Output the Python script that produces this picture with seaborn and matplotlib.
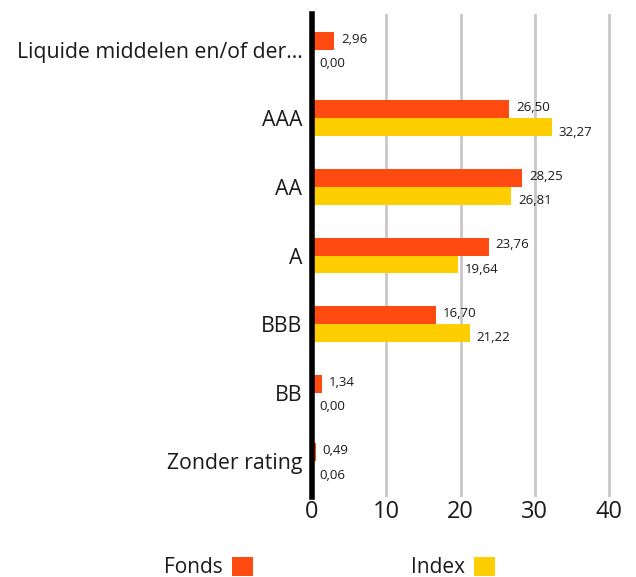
import matplotlib
matplotlib.use("Agg")
import matplotlib.pyplot as plt
import seaborn as sns
import pandas as pd
from matplotlib.patches import Patch

categories = ["Liquide middelen en/of der...", "AAA", "AA", "A", "BBB", "BB", "Zonder rating"]
fonds = [2.96, 26.50, 28.25, 23.76, 16.70, 1.34, 0.49]
index_vals = [0.00, 32.27, 26.81, 19.64, 21.22, 0.00, 0.06]
series = ["Fonds", "Index"]
colors = ["#FF4A12", "#FFCE00"]
xticks = [0, 10, 20, 30, 40]

df = pd.DataFrame({
    "cat": categories * 2,
    "val": fonds + index_vals,
    "serie": ["Fonds"] * len(categories) + ["Index"] * len(categories),
})

sns.set_style("white")
plt.rcParams['font.family'] = ['Open Sans', 'DejaVu Sans']

fig = plt.figure(figsize=(6.36, 5.77), dpi=100)
ax = fig.add_axes([312/636, 1-497/577, (630-312)/636, (497-14)/577])

sns.barplot(data=df, y="cat", x="val", hue="serie", hue_order=series,
            palette=colors, orient="h", width=0.52, dodge=True,
            saturation=1, ax=ax, legend=False, errorbar=None, linewidth=0)

ax.set_xlim(0, 42.8)
ax.set_ylim(6.52, -0.52)
ax.set_xticks(xticks)
ax.set_xticklabels([str(t) for t in xticks], fontsize=17, color="#1a1a1a")
ax.tick_params(axis="y", labelsize=15.3, colors="#1a1a1a", length=0, pad=7)
ax.tick_params(axis="x", length=0, pad=2)
ax.set_xlabel("")
ax.set_ylabel("")
ax.set_axisbelow(True)
ax.xaxis.grid(True, color="#C8C8C8", linewidth=2)
ax.yaxis.grid(False)
for s in ["top", "right", "bottom"]:
    ax.spines[s].set_visible(False)
ax.spines["left"].set_linewidth(4)
ax.spines["left"].set_color("black")
ax.spines["left"].set_zorder(5)

vals_by_series = [fonds, index_vals]
for cont, vals, dy in zip(ax.containers, vals_by_series, [1.2, -3.5]):
    labels = [f"{v:.2f}".replace(".", ",") for v in vals]
    texts = ax.bar_label(cont, labels=labels, padding=5, fontsize=9.5, color="#1a1a1a")
    for t in texts:
        x0, y0 = t.xyann
        t.xyann = (x0, y0 + dy)

handles = [Patch(facecolor=c, edgecolor="none") for c in colors]
fig.legend(handles, series, loc="lower center", bbox_to_anchor=(0.518, -0.035),
           ncol=2, frameon=False, markerfirst=False, fontsize=15,
           handlelength=1.0, handleheight=1.0, handletextpad=0.45,
           columnspacing=7.6, labelcolor="#1a1a1a")

fig.savefig("out.png", dpi=100)
